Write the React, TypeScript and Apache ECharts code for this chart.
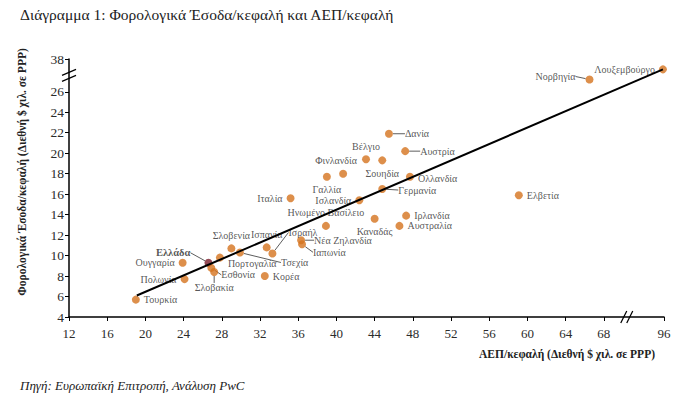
import React, { useEffect, useRef } from "react";
import * as echarts from "echarts";

const countries = [
  "Τουρκία", "Πολωνία", "Ουγγαρία", "Ελλάδα", "Εσθονία", "Σλοβακία", "Πορτογαλία",
  "Σλοβενία", "Τσεχία", "Ισπανία", "Ισραήλ", "Κορέα", "Νέα Ζηλανδία", "Ιαπωνία",
  "Ηνωμένο Βασίλειο", "Γαλλία", "Φινλανδία", "Ιταλία", "Ισλανδία", "Καναδάς",
  "Αυστραλία", "Ιρλανδία", "Γερμανία", "Ολλανδία", "Βέλγιο", "Σουηδία", "Δανία",
  "Αυστρία", "Ελβετία", "Νορβηγία", "Λουξεμβούργο",
];
const gdpPerCapita = [
  19.0, 24.1, 23.9, 26.6, 26.9, 27.2, 27.8, 29.0, 29.9, 32.7, 33.3, 32.5, 36.3, 36.4,
  38.9, 39.0, 40.7, 35.2, 42.4, 44.0, 46.6, 47.3, 44.8, 47.7, 43.1, 44.8, 45.5, 47.2,
  59.1, 66.5, 95.5,
];
const taxPerCapita = [
  5.7, 7.7, 9.3, 9.3, 8.8, 8.4, 9.8, 10.7, 10.3, 10.8, 10.2, 8.0, 11.5, 11.1,
  12.9, 17.7, 18.0, 15.6, 15.4, 13.6, 12.9, 13.9, 16.5, 17.7, 19.4, 19.3, 21.9, 20.2,
  15.9, 30.5, 34.2,
];
const trendX = [19.1, 95.5];
const trendY = [6.1, 34.2];
const xTickLabels = [12, 16, 20, 24, 28, 32, 36, 40, 44, 48, 52, 56, 60, 64, 68, 96];
const yTickLabels = [4, 6, 8, 10, 12, 14, 16, 18, 20, 22, 24, 26, 38];
const highlighted = "Ελλάδα";

// broken axes: values above the break are compressed
const X_BREAK = 68, X_TOP = 96, X_TOP_POS = 74.3;
const Y_BREAK = 26, Y_TOP = 38, Y_TOP_POS = 29.2;
const fx = (x: number) => (x <= X_BREAK ? x : X_BREAK + ((x - X_BREAK) * (X_TOP_POS - X_BREAK)) / (X_TOP - X_BREAK));
const fy = (y: number) => (y <= Y_BREAK ? y : Y_BREAK + ((y - Y_BREAK) * (Y_TOP_POS - Y_BREAK)) / (Y_TOP - Y_BREAK));

// label placement (styling only): position, dx, dy, leader line
const placement: Record<string, [string, number, number, boolean]> = {
  "Τουρκία": ["right", 0, 0, false],
  "Πολωνία": ["left", 0, 0, false],
  "Ουγγαρία": ["left", 0, 0, false],
  "Ελλάδα": ["left", -10, -10, true],
  "Εσθονία": ["right", 2, 7, true],
  "Σλοβακία": ["bottom", 0, 3, true],
  "Πορτογαλία": ["right", 0, 6, false],
  "Σλοβενία": ["top", 0, 0, false],
  "Τσεχία": ["right", 33, 10, true],
  "Ισπανία": ["top", 0, 0, false],
  "Ισραήλ": ["right", 8, -21, true],
  "Κορέα": ["right", 0, 0, false],
  "Νέα Ζηλανδία": ["right", 5, 0, true],
  "Ιαπωνία": ["right", 3, 8, true],
  "Ηνωμένο Βασίλειο": ["top", 0, 0, false],
  "Γαλλία": ["bottom", 0, 0, false],
  "Φινλανδία": ["top", -7, 0, false],
  "Ιταλία": ["left", 0, 0, false],
  "Ισλανδία": ["left", 0, 0, false],
  "Καναδάς": ["bottom", 0, 0, false],
  "Αυστραλία": ["right", 0, 0, false],
  "Ιρλανδία": ["right", 0, 0, false],
  "Γερμανία": ["right", 8, 1, true],
  "Ολλανδία": ["right", 0, 2, false],
  "Βέλγιο": ["top", 0, 0, false],
  "Σουηδία": ["bottom", 0, 0, false],
  "Δανία": ["right", 8, 0, true],
  "Αυστρία": ["right", 7, 0, true],
  "Ελβετία": ["right", 0, 0, false],
  "Νορβηγία": ["left", -6, -3, true],
  "Λουξεμβούργο": ["left", 0, 0, false],
};

const FONT = "'Liberation Serif', 'DejaVu Serif', serif";
const ORANGE = "#D4731E";
const MAROON = "#7A1E2C";
const TEXT = "#2b2b2b";

export default function App() {
  const ref = useRef<HTMLDivElement>(null);
  useEffect(() => {
    if (!ref.current) return;
    const chart = echarts.init(ref.current, undefined, { renderer: "svg" });
    const xTicks = xTickLabels.map(fx);
    const yTicks = yTickLabels.map(fy);
    const xFmt = (v: number) => {
      const i = xTicks.findIndex((t) => Math.abs(t - v) < 1e-6);
      return i >= 0 ? String(xTickLabels[i]) : "";
    };
    const yFmt = (v: number) => {
      const i = yTicks.findIndex((t) => Math.abs(t - v) < 1e-6);
      return i >= 0 ? String(yTickLabels[i]) : "";
    };
    const data = countries.map((name, i) => {
      const p = placement[name] || ["right", 0, 0, false];
      const isHi = name === highlighted;
      return {
        name,
        value: [fx(gdpPerCapita[i]), fy(taxPerCapita[i])],
        itemStyle: { color: isHi ? MAROON : ORANGE },
        label: {
          position: p[0],
          fontWeight: isHi ? "bold" : "normal",
          fontSize: isHi ? 10.5 : 10,
        },
        labelLine: { show: p[3] },
      };
    });
    chart.setOption({
      animation: false,
      backgroundColor: "#fff",
      grid: { left: 69, right: 36, top: 59, bottom: 87, containLabel: false },
      xAxis: {
        type: "value",
        min: 12,
        max: fx(X_TOP),
        splitLine: { show: false },
        axisLine: { show: true, onZero: false, lineStyle: { color: "#000", width: 1.5 } },
        axisTick: { show: true, length: 4, customValues: xTicks, lineStyle: { color: "#000" } },
        axisLabel: {
          customValues: xTicks,
          formatter: xFmt,
          fontFamily: FONT,
          fontSize: 13,
          color: TEXT,
          margin: 10,
        },
      },
      yAxis: {
        type: "value",
        min: 4,
        max: fy(Y_TOP),
        splitLine: { show: false },
        axisLine: { show: true, onZero: false, lineStyle: { color: "#000", width: 1.5 } },
        axisTick: { show: true, length: 4, customValues: yTicks, lineStyle: { color: "#000" } },
        axisLabel: {
          customValues: yTicks,
          formatter: yFmt,
          fontFamily: FONT,
          fontSize: 13.5,
          color: TEXT,
          margin: 5,
        },
      },
      series: [
        {
          type: "scatter",
          symbolSize: 8,
          z: 2,
          data,
          label: {
            show: true,
            formatter: "{b}",
            fontFamily: FONT,
            fontSize: 10,
            color: TEXT,
            distance: 4,
          },
          labelLine: { lineStyle: { color: "#333", width: 0.8 } },
          labelLayout: (params: any) => {
            const name = countries[params.dataIndex];
            const p = placement[name];
            return p ? { dx: p[1], dy: p[2] } : {};
          },
          emphasis: { disabled: true },
        },
        {
          type: "line",
          z: 3,
          symbol: "none",
          silent: true,
          data: trendX.map((x, i) => [fx(x), fy(trendY[i])]),
          lineStyle: { color: "#000", width: 2 },
        },
      ],
    });

    // break marks and texts
    const xb = chart.convertToPixel({ gridIndex: 0 }, [70.4, 4]) as number[];
    const yb = chart.convertToPixel({ gridIndex: 0 }, [12, 27.6]) as number[];
    const ls = { stroke: "#000", lineWidth: 1.2 };
    const marks: any[] = [];
    [-3, 3].forEach((o) => {
      marks.push({ type: "line", shape: { x1: xb[0] + o - 3, y1: xb[1] + 6, x2: xb[0] + o + 3, y2: xb[1] - 6 }, style: ls, z: 10 });
      marks.push({ type: "line", shape: { x1: yb[0] - 7, y1: yb[1] + 3 + o, x2: yb[0] + 7, y2: yb[1] - 3 + o }, style: ls, z: 10 });
    });
    chart.setOption({
      graphic: [
        ...marks,
        {
          type: "text",
          x: 20,
          y: 14,
          style: {
            text: "Διάγραμμα 1: Φορολογικά Έσοδα/κεφαλή και ΑΕΠ/κεφαλή",
            font: `15.5px ${FONT}`,
            fill: "#222",
            verticalAlign: "middle",
          },
        },
        {
          type: "text",
          x: 655,
          y: 354,
          style: {
            text: "ΑΕΠ/κεφαλή (Διεθνή $ χιλ. σε PPP)",
            font: `bold 11.5px ${FONT}`,
            fill: "#222",
            align: "right",
            verticalAlign: "middle",
          },
        },
        {
          type: "text",
          x: 22,
          y: 172,
          rotation: Math.PI / 2,
          style: {
            text: "Φορολογικά Έσοδα/κεφαλή (Διεθνή $ χιλ. σε PPP)",
            font: `bold 11.5px ${FONT}`,
            fill: "#222",
            align: "center",
            verticalAlign: "middle",
          },
        },
        {
          type: "text",
          x: 20,
          y: 385,
          style: {
            text: "Πηγή: Ευρωπαϊκή Επιτροπή, Ανάλυση PwC",
            font: `italic 13px ${FONT}`,
            fill: "#222",
            verticalAlign: "middle",
          },
        },
      ],
    });
    return () => chart.dispose();
  }, []);
  return (
    <div
      ref={ref}
      style={{ position: "fixed", left: 0, top: 0, width: 700, height: 404, background: "#fff" }}
    />
  );
}
